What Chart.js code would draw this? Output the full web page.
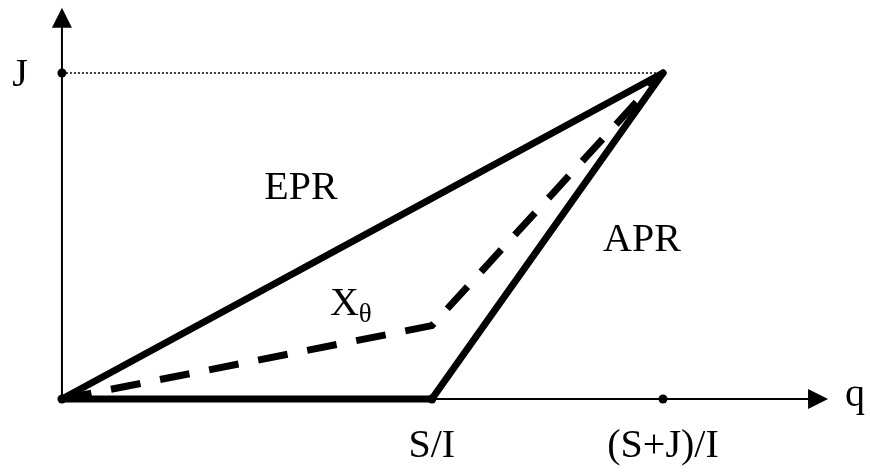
<!DOCTYPE html>
<html>
<head>
<meta charset="utf-8">
<script src="https://cdn.jsdelivr.net/npm/chart.js@4/dist/chart.umd.min.js"></script>
<style>
  html, body { margin: 0; padding: 0; background: #fff; }
  #wrap { width: 870px; height: 475px; position: relative; }
</style>
</head>
<body>
<div id="wrap"><canvas id="prChart"></canvas></div>
<script>
// values (S = 1.6, J = 1, I = 1)
const qTicks = [1.6, 2.6];
const qTickLabels = ['S/I', '(S+J)/I'];
const jLevel = 1;

const eprQ = [0, 2.6];
const eprJ = [0, 1];
const aprQ = [1.6, 2.6];
const aprJ = [0, 1];
const floorQ = [0, 1.6];
const floorJ = [0, 0];
const xThetaQ = [0, 1.6, 2.6];
const xThetaJ = [0, 0.225, 1];
const guideQ = [0, 2.6];
const guideJ = [1, 1];

const axisQmax = 3.314;
const axisJmax = 1.2;

const pts = (xs, ys) => xs.map((x, i) => ({ x: x, y: ys[i] }));

const serif = '"Liberation Serif", "DejaVu Serif", serif';

const textLabels = [
  { text: 'EPR', x: 1.034, y: 0.613 },
  { text: 'APR', x: 2.509, y: 0.454 }
];

const diagramPlugin = {
  id: 'diagram',
  afterDatasetsDraw(chart) {
    const ctx = chart.ctx;
    const xs = chart.scales.x, ys = chart.scales.y;
    const ox = xs.getPixelForValue(0), oy = ys.getPixelForValue(0);
    ctx.save();
    ctx.fillStyle = '#000';
    // arrow heads
    const tx = xs.getPixelForValue(axisQmax);
    ctx.beginPath();
    ctx.moveTo(tx, oy);
    ctx.lineTo(tx - 20, oy - 10);
    ctx.lineTo(tx - 20, oy + 10);
    ctx.closePath();
    ctx.fill();
    const ty = ys.getPixelForValue(axisJmax);
    ctx.beginPath();
    ctx.moveTo(ox, ty);
    ctx.lineTo(ox - 10, ty + 20);
    ctx.lineTo(ox + 10, ty + 20);
    ctx.closePath();
    ctx.fill();

    ctx.font = '40px ' + serif;
    ctx.textAlign = 'center';
    ctx.textBaseline = 'alphabetic';
    qTicks.forEach((q, i) => {
      ctx.fillText(qTickLabels[i], xs.getPixelForValue(q), oy + 58);
    });
    ctx.fillText('J', ox - 42, ys.getPixelForValue(jLevel) + 13);
    ctx.textAlign = 'left';
    ctx.fillText('q', tx + 17, oy + 7);
    ctx.textAlign = 'center';
    textLabels.forEach(l => {
      ctx.fillText(l.text, xs.getPixelForValue(l.x), ys.getPixelForValue(l.y));
    });
    // X_theta
    const xx = xs.getPixelForValue(1.159), xy = ys.getPixelForValue(0.258);
    ctx.textAlign = 'left';
    ctx.fillText('X', xx, xy);
    const w = ctx.measureText('X').width;
    ctx.font = '27px ' + serif;
    ctx.fillText('θ', xx + w, xy + 7);
    ctx.restore();
  }
};

const thick = {
  borderColor: '#000',
  borderWidth: 7,
  borderCapStyle: 'round',
  borderJoinStyle: 'round',
  pointRadius: 0,
  showLine: true,
  fill: false
};

new Chart(document.getElementById('prChart'), {
  type: 'scatter',
  data: {
    datasets: [
      { data: pts(guideQ, guideJ), showLine: true, borderColor: '#000', borderWidth: 1.5,
        borderDash: [2, 2], pointRadius: 0 },
      { data: pts([0, axisQmax - 0.05], [0, 0]), showLine: true, borderColor: '#000', borderWidth: 2, pointRadius: 0 },
      { data: pts([0, 0], [0, axisJmax - 0.03]), showLine: true, borderColor: '#000', borderWidth: 2, pointRadius: 0 },
      Object.assign({ data: pts(eprQ, eprJ) }, thick),
      Object.assign({ data: pts(aprQ, aprJ) }, thick),
      Object.assign({ data: pts(floorQ, floorJ) }, thick),
      Object.assign({ data: pts(xThetaQ, xThetaJ), borderDash: [30, 20] }, thick, { borderCapStyle: 'butt' }),
      { data: pts([0, 0, qTicks[0], qTicks[1]], [jLevel, 0, 0, 0]), pointRadius: 4.5,
        pointBackgroundColor: '#000', pointBorderWidth: 0, showLine: false }
    ]
  },
  options: {
    responsive: true,
    maintainAspectRatio: false,
    animation: false,
    layout: { padding: 0, autoPadding: false },
    scales: {
      x: { type: 'linear', display: false, min: -0.268, max: 3.4955 },
      y: { type: 'linear', display: false, min: -0.2331, max: 1.2239 }
    },
    plugins: {
      legend: { display: false },
      tooltip: { enabled: false }
    }
  },
  plugins: [diagramPlugin]
});
</script>
</body>
</html>
